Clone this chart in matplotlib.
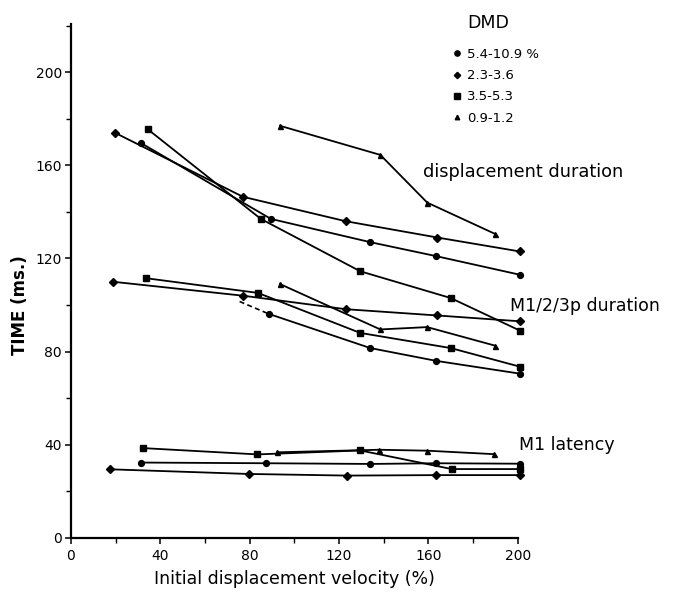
"""DMD timing plot: displacement duration, M1/2/3p duration and M1 latency."""

import matplotlib
matplotlib.use('Agg')
import matplotlib.pyplot as plt
from matplotlib.lines import Line2D
from matplotlib.ticker import MultipleLocator

# DMD groups
dmd_labels = ['5.4-10.9 %', '2.3-3.6', '3.5-5.3', '0.9-1.2']
dmd_markers = ['o', 'D', 's', '^']

# displacement duration
disp_circle_x = [31.5, 89.5, 134, 163.5, 201]
disp_circle_y = [169.5, 137, 127, 121, 113]
disp_diamond_x = [19.7, 77, 123, 164, 201]
disp_diamond_y = [174, 146.5, 136, 129, 123]
disp_square_x = [34.4, 85, 129.5, 170, 201]
disp_square_y = [175.5, 137, 114.5, 103, 89]
disp_triangle_x = [93.6, 138.5, 159.5, 190]
disp_triangle_y = [177, 164.5, 144, 130.5]

# M1/2/3p duration
m123_circle_dash_x = [75.5, 88.5]
m123_circle_dash_y = [101.5, 96.2]
m123_circle_x = [88.5, 134, 163.5, 201]
m123_circle_y = [96.2, 81.5, 76, 70.5]
m123_diamond_x = [18.7, 77, 123, 164, 201]
m123_diamond_y = [110, 104, 98.2, 95.5, 93]
m123_square_x = [33.7, 83.7, 129.5, 170, 201]
m123_square_y = [111.5, 105.2, 88, 81.5, 73.5]
m123_triangle_x = [93.6, 138.5, 159.5, 190]
m123_triangle_y = [109, 89.5, 90.5, 82.5]

# M1 latency
lat_circle_x = [31.3, 87.5, 134, 163.5, 201]
lat_circle_y = [32.3, 32, 31.7, 32, 31.8]
lat_diamond_x = [17.5, 79.5, 123.5, 163.5, 201]
lat_diamond_y = [29.4, 27.4, 26.7, 26.9, 26.9]
lat_square_x = [32.4, 83.5, 129.5, 170.5, 201]
lat_square_y = [38.5, 35.8, 37.5, 29.5, 29.5]
lat_triangle_x = [92.2, 138, 159.5, 189.5]
lat_triangle_y = [36.7, 37.8, 37.4, 35.9]

plt.rcParams['font.family'] = ['DejaVu Sans']

fig = plt.figure(figsize=(6.76, 5.97), dpi=100)
ax = fig.add_axes([0.105, 0.0993, 0.6608, 0.8607])

msize = {'o': 4.2, 'D': 3.6, 's': 5.0, '^': 3.6}


def draw(xs, ys, marker, ls='-'):
    ax.plot(xs, ys, color='black', lw=1.3, ls=ls, marker=marker,
            markersize=msize.get(marker, 4), clip_on=False)


draw(disp_circle_x, disp_circle_y, 'o')
draw(disp_diamond_x, disp_diamond_y, 'D')
draw(disp_square_x, disp_square_y, 's')
draw(disp_triangle_x, disp_triangle_y, '^')

ax.plot(m123_circle_dash_x, m123_circle_dash_y, color='black', lw=1.2,
        ls=(0, (3, 2)))
draw(m123_circle_x, m123_circle_y, 'o')
draw(m123_diamond_x, m123_diamond_y, 'D')
draw(m123_square_x, m123_square_y, 's')
draw(m123_triangle_x, m123_triangle_y, '^')

draw(lat_circle_x, lat_circle_y, 'o')
draw(lat_diamond_x, lat_diamond_y, 'D')
draw(lat_square_x, lat_square_y, 's')
draw(lat_triangle_x, lat_triangle_y, '^')

ax.set_xlim(0, 200)
ax.set_ylim(0, 220.8)
ax.spines['top'].set_visible(False)
ax.spines['right'].set_visible(False)
ax.spines['left'].set_linewidth(1.6)
ax.spines['bottom'].set_linewidth(1.6)
ax.xaxis.set_major_locator(MultipleLocator(40))
ax.xaxis.set_minor_locator(MultipleLocator(20))
ax.yaxis.set_major_locator(MultipleLocator(40))
ax.yaxis.set_minor_locator(MultipleLocator(20))
ax.tick_params(which='major', direction='out', length=4, width=1.1,
               labelsize=10, pad=2.5)
ax.tick_params(axis='x', which='major', pad=4)
ax.tick_params(which='minor', direction='out', length=3.5, width=1.0)

ax.set_xlabel('Initial displacement velocity (%)', fontsize=12.5, labelpad=5)
fig.text(20 / 676, 1 - 305 / 597, 'TIME (ms.)', rotation=90, fontsize=12,
         fontweight='bold', ha='center', va='center')

ax.text(157.5, 157.3, 'displacement duration', fontsize=12.8, va='center',
        clip_on=False)
ax.text(196.5, 99.4, 'M1/2/3p duration', fontsize=12.5, va='center',
        clip_on=False)
ax.text(200.5, 39.9, 'M1 latency', fontsize=12.5, va='center',
        clip_on=False)

ax.text(177.2, 221.2, 'DMD', fontsize=12.5, va='center', clip_on=False)
handles = [Line2D([], [], color='black', ls='none', marker=m,
                  markersize=msize[m] * 0.9) for m in dmd_markers]
ax.legend(handles, dmd_labels, loc='upper left', frameon=False,
          bbox_to_anchor=(453 / 676, 1 - 48 / 597),
          bbox_transform=fig.transFigure, fontsize=9.5, borderpad=0,
          handlelength=0.6, handletextpad=0.45, labelspacing=0.62,
          borderaxespad=0)

fig.savefig('out.png', dpi=100)
